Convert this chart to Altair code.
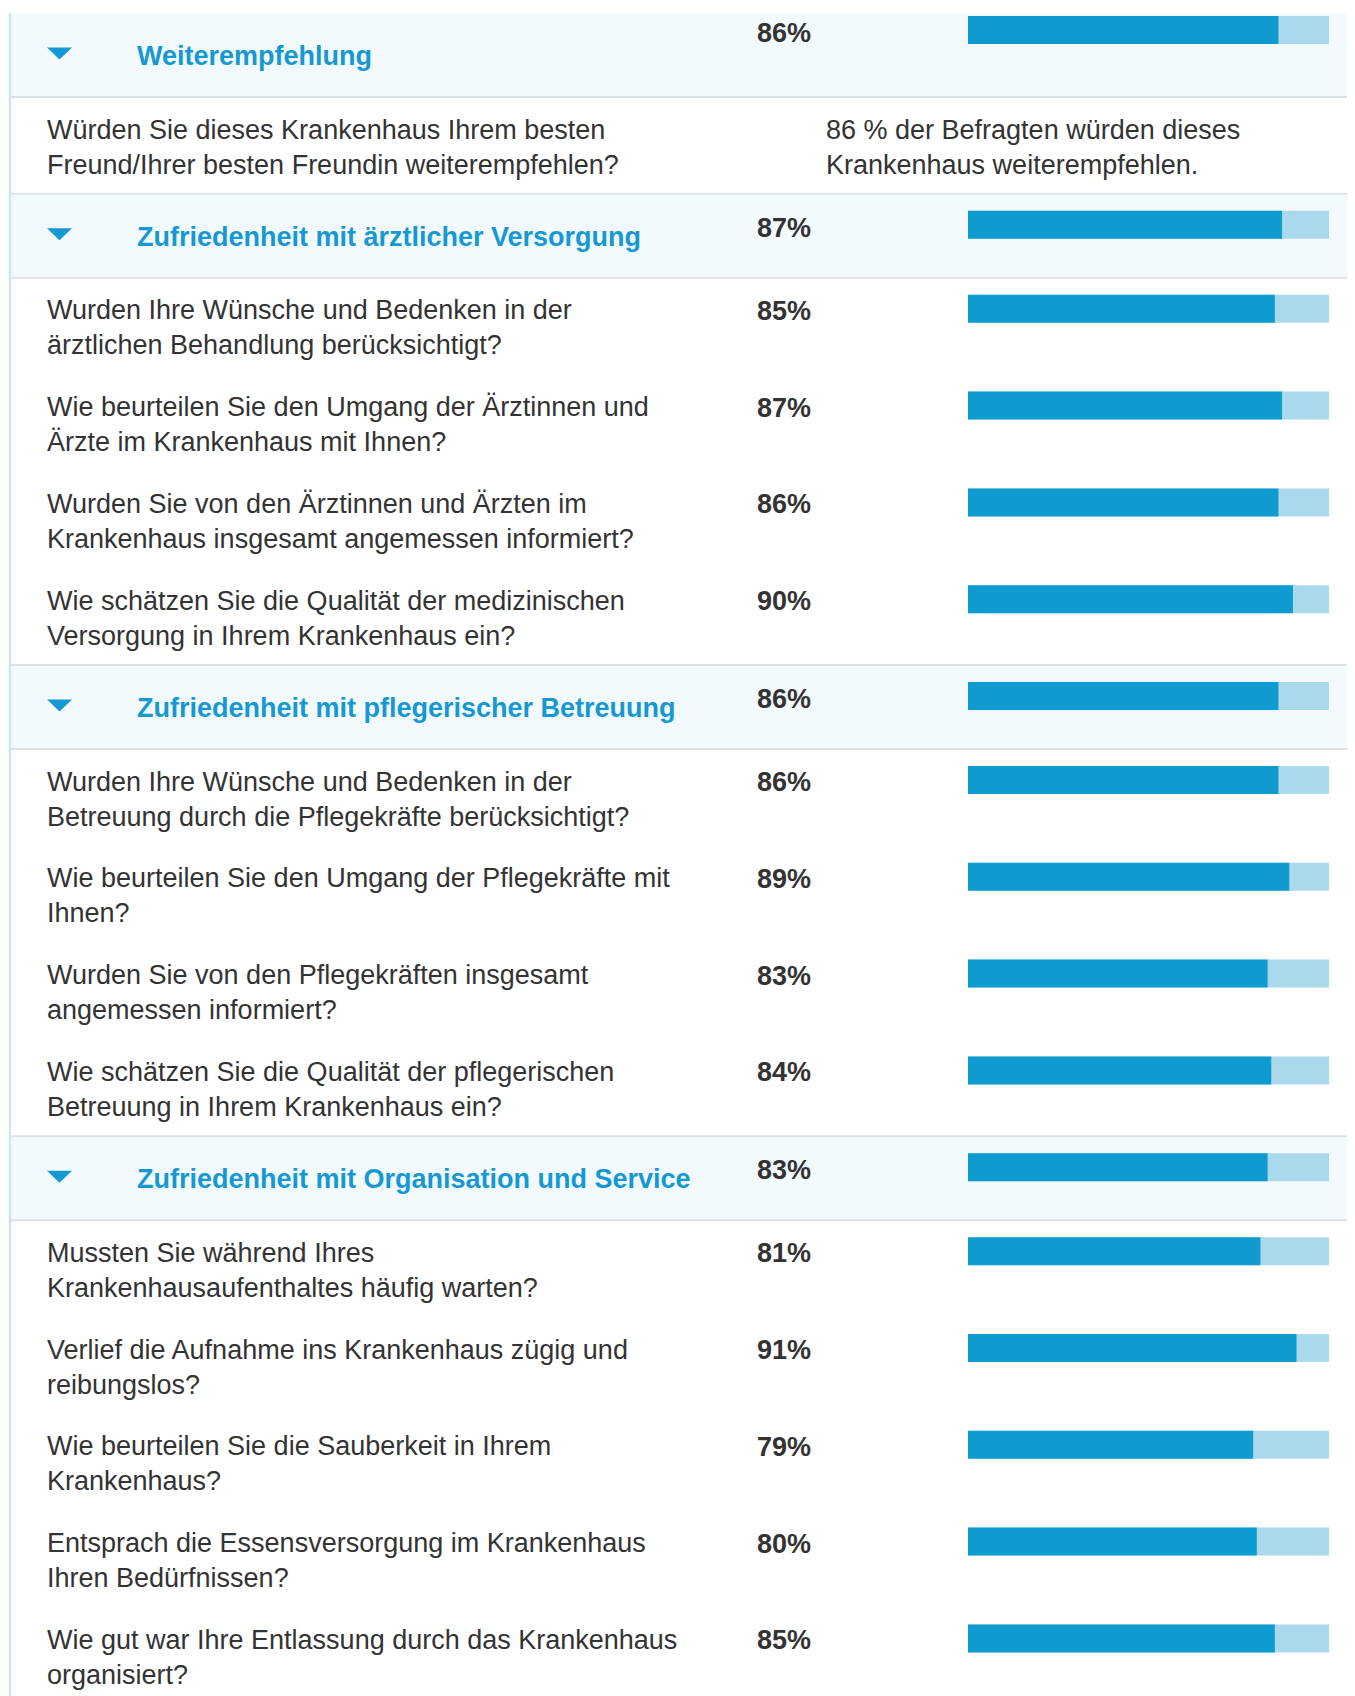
import altair as alt
import pandas as pd

# ---------------- data ----------------
group_titles = [
    "Weiterempfehlung",
    "Zufriedenheit mit ärztlicher Versorgung",
    "Zufriedenheit mit pflegerischer Betreuung",
    "Zufriedenheit mit Organisation und Service",
]
group_pcts = [86, 87, 86, 83]

group1_questions = [
    "Würden Sie dieses Krankenhaus Ihrem besten\nFreund/Ihrer besten Freundin weiterempfehlen?",
]
group1_note = "86 % der Befragten würden dieses\nKrankenhaus weiterempfehlen."

group2_questions = [
    "Wurden Ihre Wünsche und Bedenken in der\närztlichen Behandlung berücksichtigt?",
    "Wie beurteilen Sie den Umgang der Ärztinnen und\nÄrzte im Krankenhaus mit Ihnen?",
    "Wurden Sie von den Ärztinnen und Ärzten im\nKrankenhaus insgesamt angemessen informiert?",
    "Wie schätzen Sie die Qualität der medizinischen\nVersorgung in Ihrem Krankenhaus ein?",
]
group2_pcts = [85, 87, 86, 90]

group3_questions = [
    "Wurden Ihre Wünsche und Bedenken in der\nBetreuung durch die Pflegekräfte berücksichtigt?",
    "Wie beurteilen Sie den Umgang der Pflegekräfte mit\nIhnen?",
    "Wurden Sie von den Pflegekräften insgesamt\nangemessen informiert?",
    "Wie schätzen Sie die Qualität der pflegerischen\nBetreuung in Ihrem Krankenhaus ein?",
]
group3_pcts = [86, 89, 83, 84]

group4_questions = [
    "Mussten Sie während Ihres\nKrankenhausaufenthaltes häufig warten?",
    "Verlief die Aufnahme ins Krankenhaus zügig und\nreibungslos?",
    "Wie beurteilen Sie die Sauberkeit in Ihrem\nKrankenhaus?",
    "Entsprach die Essensversorgung im Krankenhaus\nIhren Bedürfnissen?",
    "Wie gut war Ihre Entlassung durch das Krankenhaus\norganisiert?",
]
group4_pcts = [81, 91, 79, 80, 85]

groups = [
    (group1_questions, [None]),
    (group2_questions, group2_pcts),
    (group3_questions, group3_pcts),
    (group4_questions, group4_pcts),
]

# ---------------- layout (page pixels) ----------------
M = 8
W = 1347          # right edge of the svg on the page (1355 - 8 margin)
H = 1706          # bottom edge of the svg on the page (runs past the window)
TOP = 13
HEADER_H = 84
ROW_H = 96.8
X_BORDER = 10
X_BAND = 11
X_TRI = 59.5
X_TITLE = 137
X_Q = 47
X_PCT = 757
X_NOTE = 826
BAR_X0, BAR_X1 = 968, 1329

FONT = "Liberation Sans, Arial, Helvetica, sans-serif"
C_TEXT = "#333333"
C_HEAD = "#1699D3"
C_BAR = "#0F9BD0"
C_BAR_BG = "#A9D9EB"
C_BAND = "#F3FAFE"
C_SEP = "#DDE2E6"
C_BORDER = "#CBE7F4"

headers, items, seps = [], [], []
y = TOP
for gi, (title, gpct, (qs, ps)) in enumerate(zip(group_titles, group_pcts, groups)):
    if gi > 0:
        seps.append({"y": y})
    shift = -14 if gi == 0 else 0
    headers.append({
        "title": title, "pct": gpct, "label": f"{gpct}%",
        "top": y, "bottom": y + HEADER_H,
        "x0": X_BAND, "x1": W, "xt": X_TITLE, "xtri": X_TRI, "xp": X_PCT,
        "ty": y + 52, "triy": y + 40.5, "py": y + 43 + shift,
        "by": y + 17 + shift, "by2": y + 45 + shift,
        "zero": 0, "full": 100,
    })
    y += HEADER_H
    seps.append({"y": y})
    for q, p in zip(qs, ps):
        items.append({
            "question": q, "pct": p, "label": (f"{p}%" if p is not None else ""),
            "xq": X_Q, "xp": X_PCT, "qy": y + 41.5, "py": y + 42,
            "by": y + 17, "by2": y + 45, "zero": 0, "full": 100,
        })
        y += ROW_H

hdf = pd.DataFrame(headers)
idf = pd.DataFrame(items)
sdf = pd.DataFrame(seps)
sdf["x0"] = X_BAND
sdf["x1"] = W
bar_items = idf[idf["pct"].notna()].copy()
note_df = pd.DataFrame([{"note": group1_note, "x": X_NOTE, "y": items[0]["qy"]}])
border_df = pd.DataFrame([{"x": X_BORDER, "y0": TOP, "y1": H}])

xs = alt.Scale(domain=[M, W], range=[0, W - M], nice=False, zero=False)
ys = alt.Scale(domain=[M, H], range=[0, H - M], nice=False, zero=False)
bs = alt.Scale(domain=[0, 100], range=[BAR_X0 - M, BAR_X1 - M], nice=False, zero=False)


def X(f):
    return alt.X(f, type="quantitative", scale=xs, axis=None)


def Y(f):
    return alt.Y(f, type="quantitative", scale=ys, axis=None)


def BX(f):
    return alt.X(f, type="quantitative", scale=bs, axis=None)


bands = alt.Chart(hdf).mark_rect(color=C_BAND).encode(
    x=X("x0"), x2="x1", y=Y("top"), y2="bottom")

sep_rules = alt.Chart(sdf).mark_rule(color=C_SEP, strokeWidth=2).encode(
    x=X("x0"), x2="x1", y=Y("y"))

border = alt.Chart(border_df).mark_rule(color=C_BORDER, strokeWidth=2.5).encode(
    x=X("x"), y=Y("y0"), y2="y1")

tri = alt.Chart(hdf).mark_point(
    shape="M-1,-0.48L1,-0.48L0,0.48Z", filled=True, size=625,
    color=C_HEAD, opacity=1, strokeWidth=0).encode(x=X("xtri"), y=Y("triy"))

titles = alt.Chart(hdf).mark_text(
    align="left", baseline="alphabetic", font=FONT, fontSize=27,
    fontWeight="bold", color=C_HEAD).encode(x=X("xt"), y=Y("ty"), text="title:N")

hpct = alt.Chart(hdf).mark_text(
    align="left", baseline="alphabetic", font=FONT, fontSize=27,
    fontWeight="bold", color=C_TEXT).encode(x=X("xp"), y=Y("py"), text="label:N")

hbar_bg = alt.Chart(hdf).mark_rect(color=C_BAR_BG).encode(
    x=BX("zero"), x2="full", y=Y("by"), y2="by2")
hbar = alt.Chart(hdf).mark_rect(color=C_BAR).encode(
    x=BX("zero"), x2="pct", y=Y("by"), y2="by2")

questions = alt.Chart(idf).mark_text(
    align="left", baseline="alphabetic", font=FONT, fontSize=27,
    lineHeight=35, lineBreak="\n", color=C_TEXT).encode(
    x=X("xq"), y=Y("qy"), text="question:N")

ipct = alt.Chart(bar_items).mark_text(
    align="left", baseline="alphabetic", font=FONT, fontSize=27,
    fontWeight="bold", color=C_TEXT).encode(x=X("xp"), y=Y("py"), text="label:N")

ibar_bg = alt.Chart(bar_items).mark_rect(color=C_BAR_BG).encode(
    x=BX("zero"), x2="full", y=Y("by"), y2="by2")
ibar = alt.Chart(bar_items).mark_rect(color=C_BAR).encode(
    x=BX("zero"), x2="pct", y=Y("by"), y2="by2")

note = alt.Chart(note_df).mark_text(
    align="left", baseline="alphabetic", font=FONT, fontSize=27,
    lineHeight=35, lineBreak="\n", color=C_TEXT).encode(
    x=X("x"), y=Y("y"), text="note:N")

chart = alt.layer(
    bands, sep_rules, border, tri, titles, hpct, hbar_bg, hbar,
    questions, ipct, ibar_bg, ibar, note,
).resolve_scale(x="independent").properties(
    width=W - M, height=H - M,
    autosize=alt.AutoSizeParams(type="none"),
    padding=0, background="white",
).configure_view(stroke=None)

chart.save("out.html", embed_options={"renderer": "svg", "actions": False})
